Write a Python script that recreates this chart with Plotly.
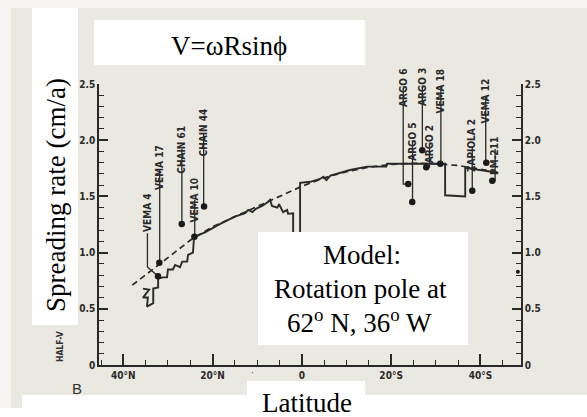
import plotly.graph_objects as go

# ---------------- data ----------------
model_lat = [38, 35, 30, 25, 20, 15, 10, 5, 0, -5, -10, -15, -20, -25, -30, -35, -40, -44]
model_rate = [0.71, 0.80, 0.955, 1.11, 1.23, 1.32, 1.41, 1.50, 1.59, 1.665, 1.72, 1.76,
              1.785, 1.795, 1.79, 1.775, 1.745, 1.715]

obs_lat = [35.6, 34.2, 35.6, 34.5, 34.7, 33.3, 33.3, 32.2, 32.2, 31.1, 30.2, 30.0, 28.9, 28.4,
           27.3, 26.8, 25.7, 25.5, 24.4, 24.15,
           21.7, 18.3, 15.0, 12.7, 12.0, 11.1, 10.3, 8.9, 7.6, 7.1, 6.7, 5.5, 5.1, 4.2, 3.3,
           3.1, 1.95, 1.95, 0.4, 0.4,
           -1.9, -4.1, -4.8, -5.5, -6.4, -10.8, -14.6, -18.9, -19.1, -32.1, -32.1, -36.6,
           -36.6, -40.0, -44.0]
obs_rate = [0.68, 0.67, 0.60, 0.60, 0.52, 0.55, 0.68, 0.69, 0.77, 0.78, 0.78, 0.85, 0.85, 0.89,
            0.87, 0.92, 0.92, 0.98, 1.00, 1.14,
            1.18, 1.255, 1.32, 1.35, 1.38, 1.36, 1.39, 1.415, 1.45, 1.47, 1.415, 1.40, 1.43,
            1.36, 1.38, 1.345, 1.35, 0.58, 0.58, 1.62,
            1.63, 1.655, 1.675, 1.645, 1.685, 1.735, 1.765, 1.765, 1.79, 1.79, 1.51, 1.50,
            1.755, 1.735, 1.71]

station_names = ["VEMA 4", "VEMA 17", "CHAIN 61", "VEMA 10", "CHAIN 44", "ARGO 6", "ARGO 5",
                 "ARGO 3", "ARGO 2", "VEMA 18", "ZAPIOLA 2", "VEMA 12", "PM-211"]
station_lat = [32.22, 31.93, 26.91, 24.08, 21.91, -23.83, -24.73, -26.97, -27.87, -31.01,
               -38.18, -41.32, -42.67]
station_rate = [0.79, 0.91, 1.255, 1.14, 1.41, 1.61, 1.45, 1.91, 1.76, 1.79, 1.55, 1.80, 1.64]

extra_lat = [-48.4]
extra_rate = [0.83]

x_tickvals = [40, 20, 0, -20, -40]
x_ticktext = ["40°N", "20°N", "0", "20°S", "40°S"]
y_tickvals = [0, 0.5, 1.0, 1.5, 2.0, 2.5]
y_ticktext = ["0", "0.5", "1.0", "1.5", "2.0", "2.5"]

# ---------------- layout / style (positions of labels, not data) ----------------
# label x (lat), label top value, label bottom value, optional knee value
label_pos = [
    (34.6, 1.531, 1.183, 0.872),
    (31.85, 2.20, 1.754, None),
    (26.88, 2.36, 1.932, None),
    (24.0, 1.897, 1.478, None),
    (22.0, 2.52, 2.075, None),
    (-22.71, 2.832, 2.476, None),
    (-24.8, 2.333, 2.004, None),
    (-27.0, 2.832, 2.494, None),
    (-28.6, 2.316, 1.977, None),
    (-31.15, 2.832, 2.485, None),
    (-38.18, 2.467, 1.941, None),
    (-41.2, 2.734, 2.404, None),
    (-43.3, 2.164, 1.932, None),
]
Y_MAX = 2.5

W, H = 587, 417
L, R, T, B = 99, 66, 84, 52
PW, PH = W - L - R, H - T - B

def px(x, y):
    return (x - L) / PW, (H - B - y) / PH

INK = "#2a2a2a"
PAGE = "#e9e8e1"
NARROW = "Liberation Sans Narrow, DejaVu Sans Condensed, Arial Narrow, sans-serif"
SERIF = "Liberation Serif, Times New Roman, serif"

fig = go.Figure()

fig.add_trace(go.Scatter(x=model_lat, y=model_rate, mode="lines",
                         line=dict(color=INK, width=1.7, dash="6px,4px"), hoverinfo="skip"))
fig.add_trace(go.Scatter(x=obs_lat, y=obs_rate, mode="lines",
                         line=dict(color=INK, width=1.9), hoverinfo="skip"))

# leader lines
lx, ly = [], []
for (xl, top, bot, knee), sl, sr in zip(label_pos, station_lat, station_rate):
    if knee is None:
        lx += [xl, xl, sl, None]
        ly += [bot - 0.01, sr, sr, None]
    else:
        lx += [xl, xl, sl, None]
        ly += [bot - 0.01, knee, sr, None]
fig.add_trace(go.Scatter(x=lx, y=ly, mode="lines", line=dict(color=INK, width=1.3),
                         cliponaxis=False, hoverinfo="skip"))

fig.add_trace(go.Scatter(x=station_lat, y=station_rate, mode="markers",
                         marker=dict(color="#1a1a1a", size=6.5), hoverinfo="skip"))
fig.add_trace(go.Scatter(x=extra_lat, y=extra_rate, mode="markers",
                         marker=dict(color="#1a1a1a", size=4), hoverinfo="skip"))
fig.add_trace(go.Scatter(x=[0], y=[0], yaxis="y2", mode="markers",
                         marker=dict(opacity=0), hoverinfo="skip"))

annotations = []
for name, (xl, top, bot, knee) in zip(station_names, label_pos):
    annotations.append(dict(x=xl, y=(top + bot) / 2 / Y_MAX, xref="x", yref="paper", text=name,
                            textangle=-90, showarrow=False,
                            font=dict(family=NARROW, size=10, color=INK, weight="bold")))

shapes = []
def box(x0, y0, x1, y1, color="#ffffff", layer="above"):
    a, b = px(x0, y1)
    c, d = px(x1, y0)
    shapes.append(dict(type="rect", xref="paper", yref="paper", x0=a, y0=b, x1=c, y1=d,
                       fillcolor=color, line=dict(width=0), layer=layer))

box(0, 0, 11, 417, "#f6f5f1", "below")
box(0, 0, 587, 8, "#f6f5f1", "below")
box(22, 395, 587, 417)
box(0, 408, 22, 417)
box(32, 8, 78, 325)
box(94, 20, 365, 65)
box(258, 232, 468, 345)
box(247, 381, 365, 417)

def text(x, y, s, size, family=SERIF, angle=0, color="#000000", weight="normal"):
    a, b = px(x, y)
    annotations.append(dict(x=a, y=b, xref="paper", yref="paper", text=s, showarrow=False,
                            textangle=angle, xanchor="center", yanchor="middle",
                            font=dict(family=family, size=size, color=color, weight=weight)))

text(229, 46, "V=ωRsinϕ", 27)
text(56, 195, "Spreading rate (cm/a)", 27, angle=-90)
text(307, 403, "Latitude", 27)
text(362, 255, "Model:", 27)
text(360, 289, "Rotation pole at", 27)
text(359, 321, "62<sup>o</sup> N, 36<sup>o</sup> W", 27)
text(77, 388, "B", 15, family="Liberation Sans, Arial, sans-serif", color="#333333")
text(60, 347, "HALF-V", 8.5, family=NARROW, angle=-90, color="#333333", weight="bold")
text(252, 372, "·", 10, family=NARROW, color="#555555")

tickfont = dict(family=NARROW, size=10, color=INK, weight="bold")
yaxis_common = dict(range=[0, Y_MAX], showline=True, linecolor=INK, linewidth=1.5,
                    ticks="inside", ticklen=9, tickwidth=1.5, tickcolor=INK,
                    tickvals=y_tickvals, ticktext=y_ticktext, tickfont=tickfont,
                    showgrid=False, zeroline=False,
                    minor=dict(ticks="inside", ticklen=5, tickwidth=1.2, tickcolor=INK,
                               dtick=0.1, tick0=0, showgrid=False))

fig.update_layout(
    width=W, height=H,
    margin=dict(l=L, r=R, t=T, b=B, pad=0, autoexpand=False),
    paper_bgcolor=PAGE, plot_bgcolor="rgba(0,0,0,0)",
    showlegend=False,
    xaxis=dict(range=[45.45, -49.1], showline=True, linecolor=INK, linewidth=1.5,
               ticks="inside", ticklen=11, tickwidth=1.5, tickcolor=INK,
               tickvals=x_tickvals, ticktext=x_ticktext, tickfont=tickfont,
               showgrid=False, zeroline=False,
               minor=dict(ticks="inside", ticklen=5, tickwidth=1.2, tickcolor=INK,
                          dtick=5, tick0=0, showgrid=False)),
    yaxis=dict(**yaxis_common, side="left"),
    yaxis2=dict(**yaxis_common, side="right", overlaying="y", anchor="x"),
    shapes=shapes,
    annotations=annotations,
)

fig.write_html("out.html")
